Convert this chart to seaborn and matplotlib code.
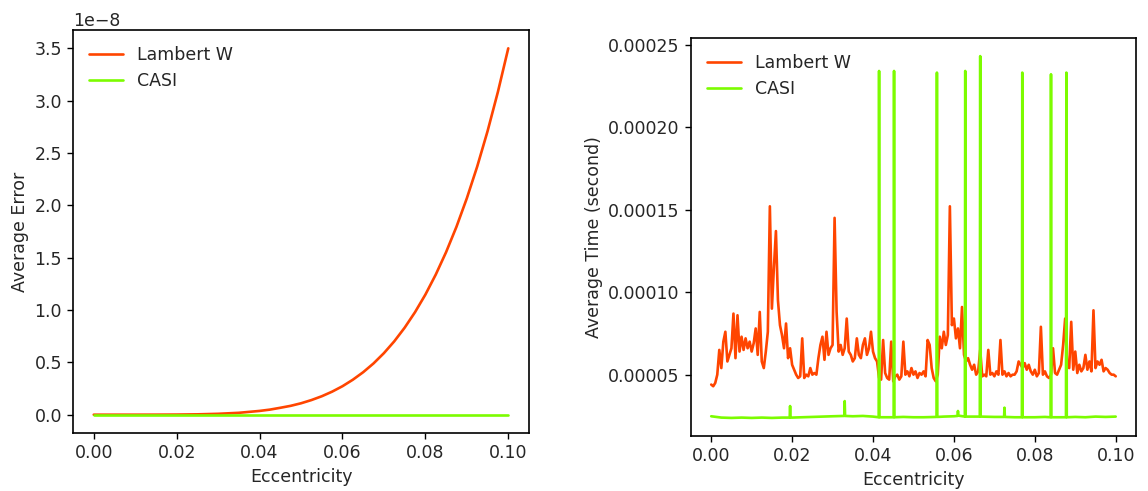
import numpy as np
import pandas as pd
import matplotlib
matplotlib.use("Agg")
import matplotlib.pyplot as plt
import seaborn as sns

# ---------------- data ----------------
# Left panel: average error (units of 1e-8) vs eccentricity
err_ecc = [0.000, 0.005, 0.010, 0.015, 0.020, 0.025, 0.030, 0.035, 0.040,
           0.0425, 0.045, 0.0475, 0.050, 0.0525, 0.055, 0.0575, 0.060, 0.0625,
           0.065, 0.0675, 0.070, 0.0725, 0.075, 0.0775, 0.080, 0.0825, 0.085,
           0.0875, 0.090, 0.0925, 0.095, 0.0975, 0.100]
lambert_err = [0.0, 0.0000, 0.00004, 0.0003, 0.0011, 0.0034, 0.0085, 0.018, 0.036,
               0.0485, 0.066, 0.0846, 0.109, 0.1396, 0.176, 0.220, 0.272, 0.334,
               0.406, 0.490, 0.588, 0.701, 0.831, 0.979, 1.147, 1.338, 1.553,
               1.795, 2.067, 2.370, 2.708, 3.084, 3.500]
casi_err = [0.0] * len(err_ecc)

# Right panel: Lambert W average time (units of 1e-5 s), sampled every 0.0005
lambert_time = [
    4.4, 4.3, 4.5, 5.0, 6.5, 5.4, 7.0, 7.6, 5.8, 6.2,
    6.6, 8.7, 6.0, 8.6, 6.4, 7.3, 6.5, 7.2, 6.6, 7.0,
    6.4, 6.9, 7.8, 6.2, 8.8, 5.8, 5.4, 6.4, 7.6, 15.2,
    9.0, 11.5, 13.7, 9.5, 8.0, 7.4, 6.6, 8.1, 6.0, 6.6,
    5.6, 5.3, 5.0, 4.8, 4.9, 7.2, 4.8, 5.0, 4.9, 5.4,
    5.0, 5.1, 5.0, 6.0, 6.8, 7.3, 5.9, 7.6, 6.2, 6.6,
    6.8, 14.5, 8.8, 6.4, 6.8, 6.2, 6.6, 8.4, 6.4, 6.2,
    5.8, 6.0, 7.2, 6.2, 6.0, 6.8, 7.2, 6.2, 6.6, 7.6,
    6.4, 6.0, 5.8, 4.8, 4.7, 7.1, 5.1, 4.8, 4.7, 7.0,
    4.6, 4.9, 5.0, 4.7, 4.9, 7.0, 5.0, 5.2, 4.9, 5.4,
    5.0, 5.2, 4.8, 5.1, 5.0, 5.2, 4.9, 7.1, 6.8, 5.4,
    4.8, 4.6, 5.0, 7.3, 6.6, 7.6, 6.8, 7.4, 15.2, 8.0,
    8.4, 7.2, 7.8, 6.6, 9.1, 6.2, 5.8, 6.0, 5.6, 5.3,
    5.6, 5.0, 5.2, 6.5, 4.9, 5.0, 4.9, 6.5, 5.0, 5.1,
    4.9, 5.2, 5.0, 7.1, 5.0, 5.2, 4.9, 5.1, 4.9, 5.0,
    5.0, 5.2, 5.8, 5.6, 5.4, 5.7, 5.3, 5.6, 5.2, 5.0,
    5.3, 4.9, 5.1, 7.9, 5.0, 5.2, 4.9, 4.8, 5.0, 6.6,
    5.1, 5.0, 5.3, 5.6, 6.8, 8.4, 5.5, 5.4, 8.2, 5.3,
    6.4, 5.1, 5.6, 5.2, 5.4, 6.2, 5.3, 5.8, 5.2, 8.9,
    5.4, 5.8, 5.6, 5.9, 5.2, 5.4, 5.3, 5.1, 5.0, 5.0,
    4.9,
]

# CASI average time (units of 1e-5 s)
casi_ecc = [0.000, 0.0025, 0.005, 0.0075, 0.010, 0.0125, 0.015, 0.0175,
            0.0194, 0.0195, 0.0196, 0.020, 0.0225, 0.025, 0.0275, 0.030,
            0.0329, 0.0330, 0.0331, 0.035, 0.0375, 0.040,
            0.0414, 0.0415, 0.0416, 0.0451, 0.0452, 0.0453, 0.0475, 0.050,
            0.0525, 0.0557, 0.0558, 0.0559, 0.0575, 0.060, 0.0609, 0.0610,
            0.0611, 0.0627, 0.0628, 0.0629, 0.0664, 0.0665, 0.0666, 0.070,
            0.0724, 0.0725, 0.0726, 0.075, 0.0768, 0.0769, 0.0770, 0.080,
            0.0825, 0.0839, 0.0840, 0.0841, 0.0877, 0.0878, 0.0879, 0.090,
            0.0925, 0.095, 0.0975, 0.100]
casi_time = [2.48, 2.40, 2.38, 2.40, 2.38, 2.40, 2.38, 2.40,
             2.40, 3.10, 2.40, 2.40, 2.42, 2.44, 2.46, 2.48,
             2.50, 3.40, 2.50, 2.48, 2.50, 2.46,
             2.42, 23.4, 2.42, 2.42, 23.4, 2.42, 2.44, 2.42,
             2.42, 2.44, 23.3, 2.44, 2.46, 2.48, 2.50, 2.80,
             2.52, 2.46, 23.4, 2.46, 2.46, 24.3, 2.46, 2.44,
             2.44, 3.00, 2.44, 2.42, 2.42, 23.3, 2.42, 2.42,
             2.44, 2.42, 23.2, 2.42, 2.42, 23.3, 2.42, 2.44,
             2.42, 2.46, 2.44, 2.46]

series_labels = ["Lambert W", "CASI"]
series_colors = ["orangered", "lawngreen"]

# ---------------- figure ----------------
sns.set_style("ticks")
plt.rcParams.update({
    "font.family": ["DejaVu Sans"],
    "font.size": 12.5,
    "axes.edgecolor": "black",
    "axes.linewidth": 1.2,
    "xtick.color": "black",
    "ytick.color": "black",
    "axes.labelcolor": "#262626",
    "xtick.labelcolor": "#262626",
    "ytick.labelcolor": "#262626",
})

fig = plt.figure(figsize=(11.48, 4.91), dpi=100)
ax1 = fig.add_axes([0.0636, 0.1181, 0.3972, 0.8208])
ax2 = fig.add_axes([0.6019, 0.1120, 0.3876, 0.8106])

err_df = pd.DataFrame({
    "ecc": err_ecc * 2,
    "err": [v * 1e-8 for v in lambert_err] + [v * 1e-8 for v in casi_err],
    "method": [series_labels[0]] * len(err_ecc) + [series_labels[1]] * len(err_ecc),
})
sns.lineplot(data=err_df, x="ecc", y="err", hue="method",
             palette=series_colors, linewidth=1.9, ax=ax1, sort=False)

lam_x = [i * 0.0005 for i in range(len(lambert_time))]
time_df = pd.DataFrame({
    "ecc": lam_x + casi_ecc,
    "t": [v * 1e-5 for v in lambert_time] + [v * 1e-5 for v in casi_time],
    "method": [series_labels[0]] * len(lam_x) + [series_labels[1]] * len(casi_ecc),
})
sns.lineplot(data=time_df, x="ecc", y="t", hue="method",
             palette=series_colors, linewidth=1.9, ax=ax2, sort=False)

ax1.set_xlabel("Eccentricity")
ax1.set_ylabel("Average Error")
ax2.set_xlabel("Eccentricity")
ax2.set_ylabel("Average Time (second)")

ax1.set_xticks([0.00, 0.02, 0.04, 0.06, 0.08, 0.10])
ax2.set_xticks([0.00, 0.02, 0.04, 0.06, 0.08, 0.10])
ax2.set_yticks([0.00005, 0.00010, 0.00015, 0.00020, 0.00025])
ax2.set_yticklabels(["0.00005", "0.00010", "0.00015", "0.00020", "0.00025"])

for ax in (ax1, ax2):
    ax.legend(loc="upper left", frameon=False, title=None)
    ax.tick_params(direction="out", length=4.5, width=1.0)

fig.savefig("out.png", dpi=100)
